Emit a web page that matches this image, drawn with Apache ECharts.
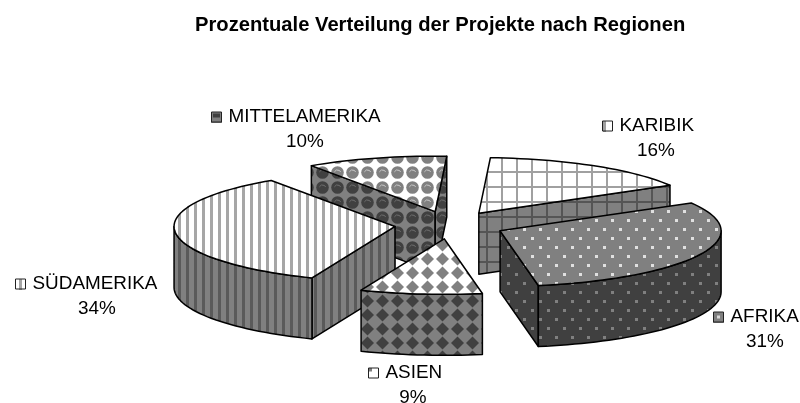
<!DOCTYPE html>
<html>
<head>
<meta charset="utf-8">
<style>
html, body { margin: 0; padding: 0; background: #fff; }
#chart { width: 800px; height: 403px; }
</style>
<script src="https://cdn.jsdelivr.net/npm/echarts@6/dist/echarts.min.js"></script>
</head>
<body>
<div id="chart"></div>
<script>
// data
var regions = ['KARIBIK', 'AFRIKA', 'ASIEN', 'SÜDAMERIKA', 'MITTELAMERIKA'];
var shares = [15.8, 30.6, 8.9, 34.4, 10.3];
var chartTitle = 'Prozentuale Verteilung der Projekte nach Regionen';

// pie layout
var cx = 450, cy = 225, rx = 221, ry = 55.5, depth = 61, explode = 0.25, startAngle = 3;
var FONT = '18.9px "Liberation Sans", Arial, sans-serif';

// label anchor: key left, first line y, second line centre x
var labelPos = [
    { key: 602, y: 126, mid: 656 },
    { key: 713, y: 317, mid: 765 },
    { key: 368, y: 373, mid: 413 },
    { key: 15, y: 284, mid: 97 },
    { key: 211, y: 117, mid: 305 }
];

function makeTile(w, h, bg, draw) {
    var c = document.createElement('canvas');
    c.width = w;
    c.height = h;
    var ctx = c.getContext('2d');
    ctx.fillStyle = bg;
    ctx.fillRect(0, 0, w, h);
    draw(ctx);
    return { image: c, repeat: 'repeat' };
}

function gridTile(bg, line) {
    return makeTile(15, 15, bg, function (ctx) {
        ctx.fillStyle = line;
        ctx.fillRect(6, 0, 2, 15);
        ctx.fillRect(0, 6, 15, 2);
    });
}

function dotTile(bg, dot) {
    return makeTile(16, 18, bg, function (ctx) {
        ctx.fillStyle = dot;
        ctx.fillRect(3, 3, 3, 3);
        ctx.fillRect(11, 12, 3, 3);
    });
}

function diamondTile(bg, fg) {
    return makeTile(15, 14, bg, function (ctx) {
        ctx.fillStyle = fg;
        ctx.beginPath();
        ctx.moveTo(7.5, 0.5);
        ctx.lineTo(14, 7);
        ctx.lineTo(7.5, 13.5);
        ctx.lineTo(1, 7);
        ctx.closePath();
        ctx.fill();
    });
}

function stripeTile(bg, fg) {
    return makeTile(8, 8, bg, function (ctx) {
        ctx.fillStyle = fg;
        ctx.fillRect(2, 0, 3, 8);
    });
}

function ballTile(bg, ball, shine) {
    return makeTile(15, 15, bg, function (ctx) {
        ctx.fillStyle = ball;
        ctx.beginPath();
        ctx.arc(7.5, 7.5, 6.3, 0, Math.PI * 2);
        ctx.fill();
        ctx.strokeStyle = shine;
        ctx.lineWidth = 1;
        ctx.beginPath();
        ctx.arc(7.5, 8.5, 3.5, Math.PI * 1.15, Math.PI * 1.85);
        ctx.stroke();
    });
}

var topFill = [
    gridTile('#fff', '#a0a0a0'),
    dotTile('#808080', '#e0e0e0'),
    diamondTile('#fff', '#808080'),
    stripeTile('#fff', '#a6a6a6'),
    ballTile('#fff', '#808080', '#c8c8c8')
];
var wallFill = [
    gridTile('#808080', '#555'),
    dotTile('#404040', '#808080'),
    diamondTile('#808080', '#404040'),
    stripeTile('#808080', '#5a5a5a'),
    ballTile('#808080', '#404040', '#6e6e6e')
];

// small legend keys, each its own little swatch
function makeKey(bg, draw) {
    return makeTile(11, 11, bg, draw).image;
}
var keyImage = [
    makeKey('#fff', function (ctx) { ctx.fillStyle = '#a0a0a0'; ctx.fillRect(1, 0, 3, 11); }),
    makeKey('#808080', function (ctx) { ctx.fillStyle = '#d8d8d8'; ctx.fillRect(4, 4, 3, 3); }),
    makeKey('#fff', function (ctx) { ctx.fillStyle = '#808080'; ctx.fillRect(0, 0, 4, 4); }),
    makeKey('#fff', function (ctx) { ctx.fillStyle = '#a6a6a6'; ctx.fillRect(4, 0, 3, 11); }),
    makeKey('#808080', function (ctx) { ctx.fillStyle = '#404040'; ctx.fillRect(2, 2, 7, 4); })
];

function pt(origin, deg, k) {
    var a = deg * Math.PI / 180;
    return [origin[0] + rx * k * Math.sin(a), origin[1] - ry * k * Math.cos(a)];
}

function down(p) {
    return [p[0], p[1] + depth];
}

function arcPoints(origin, from, to) {
    var out = [];
    var n = Math.max(2, Math.ceil((to - from) / 2));
    for (var i = 0; i <= n; i++) {
        out.push(pt(origin, from + (to - from) * i / n, 1));
    }
    return out;
}

// radial wall is seen when the slice lies above that edge on screen
function edgeVisible(o, p, q) {
    var vx = p[0] - o[0], vy = p[1] - o[1];
    var wx = q[0] - o[0], wy = q[1] - o[1];
    var cross = vx * wy - vy * wx;
    return vx > 0 ? cross < 0 : cross > 0;
}

function poly(points, fill, z2) {
    return {
        type: 'polygon',
        shape: { points: points },
        style: { fill: fill, stroke: '#000', lineWidth: 1.5, lineJoin: 'round' },
        z2: z2
    };
}

function renderSlice(params, api) {
    var idx = params.dataIndex;
    var total = shares.reduce(function (s, v) { return s + v; }, 0);
    var before = 0;
    for (var i = 0; i < idx; i++) before += shares[i];
    var value = api.value(0);
    var from = startAngle + before / total * 360;
    var to = from + value / total * 360;
    var mid = (from + to) / 2;
    var origin = pt([cx, cy], mid, explode);
    var p1 = pt(origin, from, 1), p2 = pt(origin, to, 1);
    var z = Math.round(100 * (1 - Math.cos(mid * Math.PI / 180)));
    var children = [];

    [[p1, p2], [p2, p1]].forEach(function (e) {
        if (edgeVisible(origin, e[0], e[1])) {
            children.push(poly([origin, e[0], down(e[0]), down(origin)], wallFill[idx], z));
        }
    });

    // outer wall, front half only
    var a = Math.max(from, 90), b = Math.min(to, 270);
    if (b > a) {
        var arc = arcPoints(origin, a, b);
        children.push(poly(arc.concat(arc.map(down).reverse()), wallFill[idx], z + 1));
    }

    children.push(poly([origin].concat(arcPoints(origin, from, to)), topFill[idx], z + 2));

    // key and label
    var lab = labelPos[idx];
    children.push({
        type: 'image',
        style: { image: keyImage[idx], x: lab.key, y: lab.y - 5.5, width: 11, height: 11 },
        z2: 300
    });
    children.push({
        type: 'rect',
        shape: { x: lab.key + 0.5, y: lab.y - 5, width: 10, height: 10 },
        style: { fill: 'none', stroke: '#222', lineWidth: 1 },
        z2: 301
    });
    children.push({
        type: 'text',
        style: { x: lab.key + 17.5, y: lab.y, text: regions[idx], font: FONT, fill: '#000', textAlign: 'left', textVerticalAlign: 'middle' },
        z2: 300
    });
    children.push({
        type: 'text',
        style: { x: lab.mid, y: lab.y + 24.5, text: Math.round(value) + '%', font: FONT, fill: '#000', textAlign: 'center', textVerticalAlign: 'middle' },
        z2: 300
    });
    return { type: 'group', children: children };
}

var myChart = echarts.init(document.getElementById('chart'), null, { renderer: 'canvas' });

myChart.setOption({
    animation: false,
    backgroundColor: '#fff',
    title: {
        text: chartTitle,
        left: 195,
        top: 15,
        padding: 0,
        textStyle: { fontFamily: '"Liberation Sans", Arial, sans-serif', fontSize: 20.2, fontWeight: 'bold', color: '#000' }
    },
    series: [{
        type: 'custom',
        coordinateSystem: 'none',
        renderItem: renderSlice,
        data: shares.map(function (v) { return [v]; })
    }]
});
</script>
</body>
</html>
